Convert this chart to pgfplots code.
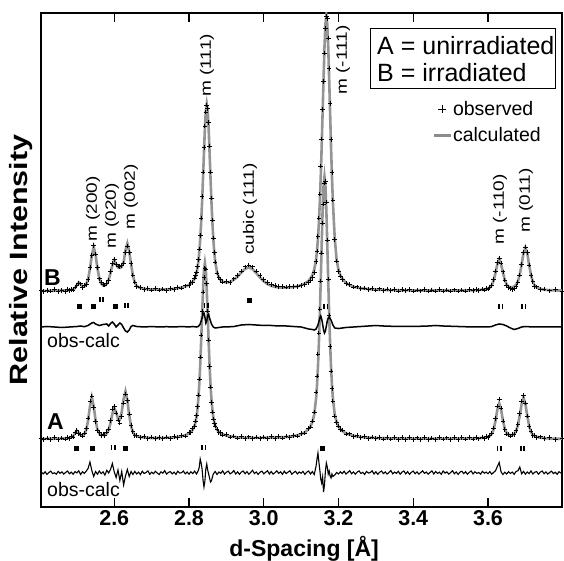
\documentclass[border=0pt]{standalone}
\usepackage{fontspec}
\setmainfont{Liberation Sans}
\usepackage{graphicx}
\usepackage{pgfplots}
\usepackage{pgfplotstable}
\pgfplotsset{compat=1.18}
\newcommand{\pl}[1]{\scalebox{1.27}[1]{\fontsize{15}{17}\selectfont #1}}

\pgfplotstableread{
d c o
2.404 216.0 216.6
2.410 216.1 215.2
2.420 216.2 216.5
2.430 216.2 215.8
2.440 216.3 217.3
2.450 216.4 215.7
2.460 216.5 216.7
2.470 216.7 215.6
2.475 216.8 217.6
2.480 217.0 216.7
2.485 217.2 217.7
2.490 217.7 216.9
2.495 219.0 219.9
2.500 222.0 221.8
2.505 224.5 223.9
2.510 222.7 223.1
2.515 220.6 219.6
2.520 220.5 221.2
2.525 222.5 222.6
2.530 227.9 227.4
2.535 238.2 239.2
2.540 252.0 251.3
2.545 259.9 261.2
2.550 252.3 253.0
2.555 238.7 239.4
2.560 228.6 228.1
2.565 223.5 224.4
2.570 221.7 222.6
2.575 221.6 221.8
2.580 223.2 224.0
2.585 227.1 226.3
2.590 234.0 235.5
2.595 241.9 243.3
2.600 246.8 247.2
2.605 243.0 242.5
2.610 239.5 241.0
2.615 239.0 240.2
2.620 240.0 241.1
2.625 244.8 243.6
2.630 256.7 254.2
2.635 263.6 261.0
2.640 255.8 254.6
2.645 242.8 243.3
2.650 231.3 232.0
2.655 224.4 224.8
2.660 221.0 220.4
2.670 218.9 219.6
2.680 218.1 217.4
2.690 217.8 218.5
2.700 217.6 216.9
2.710 217.5 218.2
2.720 217.5 216.8
2.730 217.5 217.9
2.740 217.6 216.7
2.750 217.8 218.4
2.760 218.2 217.4
2.770 218.7 219.3
2.780 219.4 218.8
2.790 220.4 221.1
2.800 222.1 221.5
2.805 223.4 224.2
2.810 225.2 224.6
2.815 228.4 229.0
2.8175 230.7 231.5
2.820 233.7 234.9
2.8225 238.9 240.6
2.825 245.2 247.4
2.8275 254.7 257.9
2.830 267.8 271.5
2.8325 284.5 289.0
2.835 305.0 310.5
2.8375 329.1 335.0
2.840 354.4 359.5
2.8425 378.6 381.0
2.845 396.1 395.0
2.8475 402.9 401.8
2.850 396.4 398.6
2.8525 379.0 384.5
2.855 354.8 361.0
2.8575 329.6 334.8
2.860 305.5 308.9
2.8625 285.1 287.0
2.865 268.4 269.0
2.8675 255.4 254.6
2.870 245.9 245.0
2.875 234.6 233.9
2.880 229.6 229.2
2.885 226.8 227.4
2.890 225.3 224.8
2.900 224.5 225.3
2.910 225.1 224.6
2.920 227.2 228.1
2.930 230.4 231.4
2.940 234.4 236.0
2.950 238.2 240.1
2.960 239.6 242.0
2.970 237.9 240.1
2.980 233.9 235.8
2.990 229.5 231.4
3.000 225.7 227.2
3.010 222.9 224.6
3.020 221.2 222.5
3.030 220.1 221.6
3.040 219.6 220.4
3.050 219.3 220.5
3.060 219.4 219.9
3.070 219.6 220.3
3.080 220.0 220.2
3.090 220.7 220.5
3.100 221.7 221.5
3.110 223.4 222.5
3.120 226.2 224.5
3.125 228.7 226.6
3.130 231.8 229.4
3.135 237.3 234.5
3.140 247.4 245.5
3.1425 256.2 256.0
3.145 268.3 270.5
3.1475 284.0 289.0
3.150 304.9 313.0
3.1525 330.2 341.0
3.155 360.4 368.0
3.1575 394.5 397.5
3.160 428.3 425.5
3.1625 460.2 454.0
3.165 482.8 478.5
3.1675 491.3 491.0
3.170 482.8 488.5
3.1725 460.2 469.0
3.175 428.3 438.3
3.1775 394.5 403.5
3.180 360.4 367.2
3.1825 330.2 334.5
3.185 304.9 306.8
3.190 268.1 267.4
3.195 247.2 246.0
3.200 237.1 235.6
3.205 231.6 230.8
3.210 228.3 227.5
3.220 224.0 223.6
3.230 221.9 222.3
3.240 220.3 219.8
3.250 219.4 220.1
3.260 218.7 218.2
3.270 218.3 219.0
3.280 217.9 217.3
3.290 217.6 218.5
3.300 217.4 216.9
3.310 217.2 218.1
3.320 217.1 216.4
3.330 217.0 217.9
3.340 216.9 216.3
3.350 216.8 217.6
3.360 216.7 216.0
3.370 216.7 217.5
3.380 216.6 216.2
3.390 216.6 217.4
3.400 216.5 215.8
3.410 216.5 216.9
3.420 216.5 216.1
3.430 216.5 217.3
3.440 216.5 215.9
3.450 216.5 217.0
3.460 216.5 216.0
3.470 216.5 217.2
3.480 216.5 215.9
3.490 216.5 216.8
3.500 216.4 216.0
3.510 216.5 217.1
3.520 216.5 215.8
3.530 216.5 216.9
3.540 216.6 216.0
3.550 216.6 217.2
3.560 216.7 216.3
3.570 216.9 217.5
3.575 217.0 216.6
3.585 217.3 217.9
3.590 217.5 216.9
3.595 217.8 218.4
3.600 218.4 218.0
3.605 219.4 220.0
3.610 221.7 221.9
3.615 226.3 227.6
3.620 234.0 235.8
3.625 242.7 244.4
3.630 247.7 248.9
3.635 242.8 244.0
3.640 234.3 235.1
3.645 226.9 227.0
3.650 222.5 221.8
3.655 220.4 219.1
3.660 219.9 218.2
3.665 219.8 217.6
3.670 220.5 218.6
3.675 222.1 220.5
3.680 225.6 224.5
3.685 232.4 232.0
3.690 242.6 242.5
3.695 254.0 254.4
3.700 259.4 259.9
3.705 253.9 254.2
3.710 242.3 242.0
3.715 232.0 231.6
3.720 225.1 225.6
3.725 221.4 220.7
3.730 219.5 220.1
3.740 218.0 217.4
3.750 217.3 218.0
3.765 216.8 216.1
3.780 216.6 217.3
3.798 216.4 215.9
}\Bdat

\pgfplotstableread{
d c o
2.404 68.1 68.7
2.410 68.1 67.2
2.420 68.2 68.9
2.430 68.2 67.6
2.440 68.3 69.2
2.450 68.4 67.5
2.460 68.5 69.0
2.470 68.7 67.9
2.475 68.8 69.9
2.480 69.1 68.3
2.485 69.5 70.4
2.490 70.8 69.9
2.495 73.7 74.6
2.500 76.2 76.9
2.505 74.3 73.5
2.510 71.9 72.6
2.515 71.5 70.8
2.520 72.8 73.9
2.525 77.0 78.2
2.530 86.5 89.0
2.535 100.6 106.0
2.540 109.7 110.9
2.545 100.9 99.5
2.550 86.9 85.6
2.555 77.4 77.0
2.560 73.4 74.3
2.565 72.1 71.2
2.570 71.8 72.9
2.575 72.1 71.4
2.580 73.6 74.8
2.585 77.1 78.0
2.590 84.0 86.5
2.595 93.3 97.8
2.600 98.8 100.5
2.605 94.9 94.0
2.610 88.3 87.0
2.615 87.5 84.0
2.620 95.0 90.5
2.625 108.1 103.8
2.630 115.7 113.0
2.635 107.0 106.2
2.640 92.0 92.8
2.645 80.7 81.5
2.650 74.7 75.3
2.655 72.0 71.4
2.660 70.8 71.6
2.670 70.0 69.3
2.680 69.5 70.3
2.690 69.2 68.5
2.700 69.0 69.8
2.710 69.0 68.3
2.720 69.0 69.7
2.730 69.1 68.4
2.740 69.2 70.0
2.750 69.4 68.6
2.760 69.7 70.5
2.770 70.1 69.4
2.780 70.7 71.5
2.790 71.8 71.0
2.800 73.5 74.4
2.805 75.0 74.2
2.810 77.2 78.1
2.815 81.4 80.6
2.8175 84.7 86.0
2.820 89.8 91.6
2.8225 97.6 100.5
2.825 108.1 112.0
2.8275 122.6 128.0
2.830 142.3 150.0
2.8325 165.7 172.0
2.835 191.9 195.5
2.8375 216.7 215.0
2.840 237.0 229.5
2.8425 244.0 238.5
2.845 237.0 238.0
2.8475 216.7 223.5
2.850 191.9 196.0
2.8525 165.7 167.0
2.855 142.3 140.5
2.8575 122.6 119.8
2.860 108.1 104.2
2.8625 97.6 94.8
2.865 89.8 88.0
2.8675 84.7 83.6
2.870 81.4 81.0
2.875 77.2 77.8
2.880 75.0 74.3
2.885 73.5 74.4
2.890 72.7 71.9
2.900 71.4 72.2
2.910 70.6 69.8
2.920 70.1 71.0
2.930 69.7 68.9
2.940 69.5 70.4
2.950 69.3 68.5
2.960 69.2 70.1
2.970 69.2 68.3
2.980 69.1 69.9
2.990 69.1 68.2
3.000 69.2 70.0
3.010 69.2 68.4
3.020 69.3 70.2
3.030 69.4 68.5
3.040 69.6 70.5
3.050 69.8 68.9
3.060 70.0 70.8
3.070 70.4 69.5
3.080 70.9 71.7
3.090 71.7 70.8
3.100 72.9 73.6
3.110 74.7 73.8
3.120 77.9 78.5
3.125 80.5 80.0
3.130 85.0 86.0
3.135 92.3 95.0
3.140 108.5 115.0
3.1425 121.9 131.0
3.145 140.3 153.0
3.1475 163.8 174.0
3.150 192.7 198.0
3.1525 226.7 226.0
3.155 262.3 254.0
3.1575 296.4 284.0
3.160 321.0 303.0
3.1625 330.2 324.0
3.165 321.0 326.0
3.1675 296.4 305.0
3.170 262.3 267.0
3.1725 226.7 228.0
3.175 192.7 191.5
3.1775 163.8 160.5
3.180 140.3 136.0
3.1825 121.9 118.5
3.185 108.5 106.0
3.190 92.3 91.0
3.195 85.0 84.5
3.200 80.5 80.9
3.205 77.9 77.3
3.210 76.1 76.8
3.220 73.6 72.9
3.230 72.3 73.1
3.240 71.1 70.3
3.250 70.5 71.3
3.260 70.0 69.2
3.270 69.7 70.5
3.280 69.4 68.6
3.290 69.2 70.0
3.300 69.0 68.2
3.310 68.9 69.7
3.320 68.8 68.0
3.330 68.7 69.5
3.340 68.6 67.9
3.350 68.6 69.4
3.360 68.5 67.7
3.370 68.5 69.3
3.380 68.4 67.6
3.390 68.4 69.2
3.400 68.4 67.5
3.410 68.4 69.1
3.420 68.4 67.6
3.430 68.4 69.3
3.440 68.4 67.7
3.450 68.4 69.0
3.460 68.4 67.5
3.470 68.4 69.2
3.480 68.4 67.8
3.490 68.4 69.1
3.500 68.4 67.6
3.510 68.4 69.3
3.520 68.4 67.7
3.530 68.5 69.2
3.540 68.5 67.8
3.550 68.6 69.4
3.560 68.7 67.9
3.570 68.8 69.6
3.575 68.9 68.1
3.585 69.1 69.9
3.590 69.4 68.7
3.595 69.7 70.6
3.600 70.2 69.5
3.605 71.1 72.0
3.610 73.1 73.9
3.615 77.6 78.9
3.620 86.0 88.5
3.625 97.3 101.0
3.630 103.7 108.0
3.635 97.5 99.0
3.640 86.4 86.0
3.645 78.1 77.5
3.650 73.8 73.0
3.655 72.2 72.9
3.660 71.8 71.0
3.665 72.0 72.7
3.670 73.0 72.2
3.675 75.7 76.4
3.680 81.6 82.5
3.685 91.6 93.5
3.690 103.1 105.8
3.695 109.4 111.5
3.700 103.0 104.0
3.705 91.3 91.0
3.710 81.2 80.6
3.715 75.1 75.8
3.720 72.2 71.5
3.725 70.8 71.6
3.730 70.1 69.4
3.740 69.3 70.1
3.750 68.9 68.2
3.765 68.5 69.3
3.780 68.3 67.6
3.798 68.2 68.8
}\Adat

\pgfplotstableread{
d r
2.404 180.0
2.420 180.5
2.440 180.0
2.460 179.5
2.480 180.0
2.500 180.5
2.510 181.0
2.520 180.3
2.530 181.5
2.540 184.0
2.545 184.5
2.550 183.0
2.560 181.5
2.570 182.5
2.580 183.0
2.585 181.0
2.590 183.5
2.595 185.0
2.600 183.0
2.605 180.0
2.610 182.0
2.615 184.0
2.620 182.5
2.625 179.0
2.630 176.0
2.635 175.0
2.640 177.0
2.645 180.5
2.650 181.5
2.660 180.5
2.680 180.0
2.700 180.5
2.720 180.0
2.740 180.3
2.760 180.0
2.780 180.5
2.800 180.0
2.810 180.5
2.820 180.0
2.825 180.5
2.830 183.0
2.835 189.0
2.8375 193.0
2.840 194.0
2.8425 190.0
2.845 184.0
2.8475 186.0
2.850 192.0
2.8525 193.0
2.855 189.0
2.860 183.0
2.865 180.0
2.870 179.0
2.880 179.5
2.890 180.0
2.900 180.0
2.920 180.5
2.940 182.0
2.960 182.5
2.980 182.0
3.000 181.5
3.020 181.5
3.040 181.0
3.060 181.0
3.080 180.5
3.100 180.0
3.110 179.0
3.120 178.0
3.130 177.5
3.135 177.0
3.140 178.0
3.145 182.0
3.150 189.0
3.1525 191.0
3.155 188.0
3.1575 183.0
3.160 177.0
3.1625 174.0
3.165 176.0
3.1675 181.0
3.170 186.0
3.1725 189.0
3.175 190.0
3.180 187.0
3.185 182.0
3.190 179.0
3.200 178.5
3.210 179.0
3.220 179.5
3.240 180.0
3.280 181.0
3.300 181.5
3.320 181.0
3.360 180.5
3.400 180.5
3.440 181.0
3.460 181.5
3.480 181.0
3.520 180.5
3.560 180.0
3.600 180.0
3.610 180.5
3.620 182.0
3.630 183.0
3.640 182.5
3.650 181.0
3.660 179.0
3.670 177.5
3.680 178.5
3.690 180.0
3.700 180.5
3.720 180.0
3.750 180.0
3.780 180.0
3.798 180.0
}\Bdif

\pgfplotstableread{
d r
2.405 34.8
2.410 33.1
2.415 35.2
2.420 32.6
2.425 34.5
2.430 35.9
2.435 33.4
2.440 34.2
2.445 32.8
2.450 35.6
2.455 33.7
2.460 35.1
2.465 32.9
2.470 34.6
2.475 36.0
2.480 33.2
2.485 34.9
2.490 32.7
2.495 35.4
2.500 34.1
2.505 36.2
2.510 32.5
2.515 35.3
2.520 33.6
2.525 35.8
2.530 38.5
2.535 45.0
2.540 36.5
2.545 30.5
2.550 35.5
2.555 32.8
2.560 36.0
2.565 33.4
2.570 35.2
2.575 31.9
2.580 36.7
2.585 34.0
2.590 37.5
2.595 43.5
2.600 35.0
2.605 29.5
2.610 37.0
2.615 26.5
2.620 35.5
2.625 22.0
2.630 31.0
2.635 37.5
2.640 30.5
2.645 35.5
2.650 32.5
2.655 35.6
2.660 33.0
2.665 34.9
2.670 32.4
2.675 35.8
2.680 33.5
2.685 34.4
2.690 36.1
2.695 32.7
2.700 34.8
2.705 33.3
2.710 35.7
2.715 34.0
2.720 32.5
2.725 35.2
2.730 33.8
2.735 36.3
2.740 32.9
2.745 34.6
2.750 35.4
2.755 33.1
2.760 34.9
2.765 32.6
2.770 35.8
2.775 33.9
2.780 34.3
2.785 36.0
2.790 33.2
2.795 35.0
2.800 32.8
2.805 35.2
2.810 33.4
2.815 35.9
2.820 33.0
2.825 36.5
2.8275 40.0
2.830 48.0
2.8325 44.0
2.835 38.0
2.8375 27.0
2.840 20.0
2.8425 26.0
2.845 38.0
2.8475 43.0
2.850 37.0
2.8525 33.0
2.855 29.0
2.8575 25.0
2.860 26.0
2.8625 30.0
2.865 33.0
2.870 35.5
2.875 32.5
2.880 35.0
2.885 33.6
2.890 36.2
2.895 32.9
2.900 34.7
2.905 35.9
2.910 33.1
2.915 34.4
2.920 36.4
2.925 33.0
2.930 35.1
2.935 32.7
2.940 34.9
2.945 36.0
2.950 33.3
2.955 35.4
2.960 32.8
2.965 34.6
2.970 36.7
2.975 33.5
2.980 35.0
2.985 32.6
2.990 34.8
2.995 35.9
3.000 33.2
3.005 34.7
3.010 36.3
3.015 33.0
3.020 35.5
3.025 32.9
3.030 34.3
3.035 36.1
3.040 33.6
3.045 35.2
3.050 32.7
3.055 35.8
3.060 33.4
3.065 34.9
3.070 36.2
3.075 32.8
3.080 34.5
3.085 35.7
3.090 33.1
3.095 35.0
3.100 33.8
3.105 35.6
3.110 32.6
3.115 34.8
3.120 36.0
3.125 33.0
3.130 35.4
3.135 32.5
3.1375 36.5
3.140 41.0
3.1425 48.0
3.145 54.0
3.1475 45.0
3.150 37.0
3.1525 28.0
3.155 24.0
3.1575 30.0
3.160 15.0
3.1625 22.0
3.165 36.0
3.1675 44.0
3.170 40.0
3.1725 33.0
3.175 36.0
3.1775 31.0
3.180 29.0
3.1825 33.0
3.185 30.5
3.190 32.0
3.195 34.5
3.200 33.0
3.205 35.2
3.210 33.4
3.215 35.8
3.220 32.9
3.225 34.6
3.230 36.4
3.235 33.3
3.240 35.0
3.245 32.8
3.250 34.9
3.255 36.1
3.260 33.5
3.265 34.7
3.270 32.6
3.275 35.6
3.280 33.9
3.285 34.4
3.290 36.2
3.295 33.0
3.300 35.3
3.305 32.7
3.310 34.8
3.315 36.0
3.320 33.4
3.325 35.1
3.330 32.9
3.335 34.6
3.340 36.5
3.345 33.2
3.350 35.0
3.355 33.6
3.360 35.7
3.365 32.8
3.370 34.9
3.375 36.0
3.380 33.1
3.385 35.4
3.390 32.6
3.395 34.7
3.400 35.9
3.405 33.3
3.410 35.2
3.415 32.9
3.420 34.5
3.425 36.2
3.430 33.7
3.435 35.0
3.440 32.8
3.445 34.6
3.450 36.1
3.455 33.0
3.460 35.5
3.465 33.6
3.470 34.8
3.475 32.7
3.480 36.0
3.485 33.9
3.490 35.1
3.495 32.9
3.500 34.4
3.505 36.3
3.510 33.2
3.515 35.0
3.520 32.6
3.525 34.9
3.530 35.8
3.535 33.4
3.540 35.3
3.545 32.8
3.550 34.7
3.555 36.0
3.560 33.1
3.565 35.2
3.570 33.7
3.575 34.5
3.580 32.9
3.585 35.6
3.590 33.8
3.595 34.9
3.600 33.3
3.605 35.4
3.610 32.8
3.615 34.6
3.620 36.2
3.625 40.5
3.630 44.5
3.635 35.0
3.640 32.5
3.645 34.8
3.650 33.0
3.655 35.3
3.660 33.6
3.665 34.9
3.670 32.7
3.675 35.5
3.680 36.2
3.685 40.0
3.690 33.2
3.695 35.6
3.700 32.9
3.705 35.0
3.710 33.4
3.715 36.1
3.720 33.0
3.725 34.7
3.730 35.5
3.735 32.8
3.740 34.9
3.745 36.0
3.750 33.3
3.755 35.1
3.760 32.9
3.765 34.6
3.770 35.8
3.775 33.4
3.780 34.8
3.785 32.7
3.790 35.3
3.795 33.9
}\Adif

\begin{document}
\begin{tikzpicture}
\begin{axis}[
  name=ax,
  width=521pt, height=494pt, scale only axis,
  xmin=2.404, xmax=3.798, ymin=0, ymax=494,
  axis line style={line width=1.6pt},
  xtick={2.6,2.8,3.0,3.2,3.4,3.6},
  xticklabels={2.6,2.8,3.0,3.2,3.4,3.6},
  ytick=\empty,
  xtick pos=both, tick align=inside,
  major tick length=9pt,
  every tick/.style={line width=1.3pt, black},
  xticklabel style={font=\bfseries\fontsize{21.5}{24}\selectfont},
  /pgf/number format/assume math mode=true,
  clip mode=individual,
  legend style={at={(axis cs:3.450,407)}, anchor=north west, draw=none, fill=none,
    inner sep=0pt, row sep=9pt, font=\fontsize{19.5}{22}\selectfont,
    nodes={inner sep=1pt},
    /tikz/every even column/.append style={column sep=30pt}},
  legend cell align=left,
]
\addlegendimage{only marks, mark=+, mark size=4.2pt, line width=1pt, black}
\addlegendimage{line width=2.8pt, black!45}

% pattern B
\addplot[black!42, line width=2.6pt] table[x=d, y=c] {\Bdat};
\addplot[only marks, mark=+, mark size=2.3pt, line width=0.9pt, black] table[x=d, y=o] {\Bdat};
% pattern A
\addplot[black!42, line width=2.6pt] table[x=d, y=c] {\Adat};
\addplot[only marks, mark=+, mark size=2.3pt, line width=0.9pt, black] table[x=d, y=o] {\Adat};
% difference curves
\addplot[black, line width=1.5pt] table[x=d, y=r] {\Bdif};
\addplot[black, line width=1.1pt] table[x=d, y=r] {\Adif};
% reflection markers
\addplot[only marks, mark=square*, mark size=2pt, black] coordinates {
 (2.506,201) (2.544,201) (2.602,201) (2.961,207)
 (2.499,59) (2.540,59) (2.629,59) (3.157,59)};
\addplot[only marks, mark=|, mark size=2.5pt, line width=1.6pt, black] coordinates {
 (2.5615,207) (2.5705,207) (2.6285,201) (2.6375,201)
 (2.8415,201) (2.8505,201) (3.1615,200) (3.1705,200)
 (3.6295,200) (3.6385,200) (3.6915,200) (3.7005,200)
 (2.5925,59) (2.6015,59) (2.8355,59) (2.8445,59)
 (3.6255,58) (3.6345,58) (3.6875,58) (3.6965,58)};
\legend{observed, calculated}

% peak labels
\node[rotate=90, anchor=west, inner sep=0pt] at (axis cs:2.5432,265) {\pl{m (200)}};
\node[rotate=90, anchor=west, inner sep=0pt] at (axis cs:2.5940,258) {\pl{m (020)}};
\node[rotate=90, anchor=west, inner sep=0pt] at (axis cs:2.6448,277) {\pl{m (002)}};
\node[rotate=90, anchor=west, inner sep=0pt] at (axis cs:2.8482,410) {\pl{m (111)}};
\node[rotate=90, anchor=west, inner sep=0pt] at (axis cs:2.9633,252) {\pl{cubic (111)}};
\node[rotate=90, anchor=west, inner sep=0pt] at (axis cs:3.2121,412) {\pl{m (-111)}};
\node[rotate=90, anchor=west, inner sep=0pt] at (axis cs:3.6323,262) {\pl{m (-110)}};
\node[rotate=90, anchor=west, inner sep=0pt] at (axis cs:3.7018,274) {\pl{m (011)}};

% pattern labels
\node[anchor=base west, inner sep=0pt, font=\bfseries\fontsize{23}{26}\selectfont] at (axis cs:2.412,221) {B};
\node[anchor=base west, inner sep=0pt, font=\bfseries\fontsize{23}{26}\selectfont] at (axis cs:2.420,77) {A};
\node[anchor=base west, inner sep=0pt, font=\fontsize{19.5}{22}\selectfont] at (axis cs:2.420,159) {obs-calc};
\node[anchor=base west, inner sep=0pt, font=\fontsize{19.5}{22}\selectfont] at (axis cs:2.420,10) {obs-calc};

% sample box
\draw[line width=0.8pt] (axis cs:3.2844,479) rectangle (axis cs:3.7794,419);
\node[anchor=base west, inner sep=0pt, font=\fontsize{25}{28}\selectfont] at (axis cs:3.3031,452) {A = unirradiated};
\node[anchor=base west, inner sep=0pt, font=\fontsize{25}{28}\selectfont] at (axis cs:3.3031,425) {B = irradiated};

% axis titles
\node[anchor=base, inner sep=0pt, font=\bfseries\fontsize{23}{26}\selectfont] at (axis cs:3.108,-49) {d-Spacing [Å]};
\node[rotate=90, inner sep=0pt] at ([xshift=-20pt]axis cs:2.404,247) {\scalebox{1.22}[1]{\bfseries\fontsize{25}{27}\selectfont Relative Intensity}};
\end{axis}
\pgfresetboundingbox
\path[use as bounding box] ([xshift=-41pt,yshift=-54pt]ax.south west) rectangle ([xshift=2pt,yshift=13pt]ax.north east);
\end{tikzpicture}
\end{document}
